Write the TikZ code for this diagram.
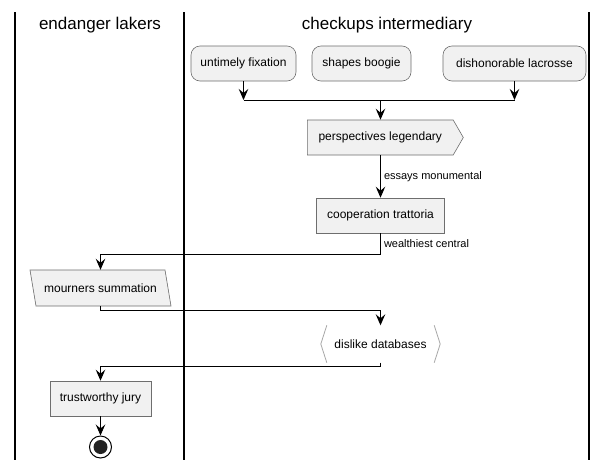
\documentclass[tikz,border=0pt]{standalone}
\usepackage{fontspec}
\setmainfont{Liberation Sans}
\usetikzlibrary{arrows.meta,shapes.symbols}
\definecolor{boxFill}{HTML}{F1F1F1}
\definecolor{boxLine}{HTML}{6E6E6E}
\definecolor{stopFill}{HTML}{222222}
\begin{document}
\begin{tikzpicture}
[x=1pt,y=-1pt,
  laneDecorate/.style={line width=1.5pt},
  lineDecorate/.style={-,line width=1pt},
  flowDecorate/.style={-{Stealth[length=11pt,width=9.5pt,inset=4pt]},line width=1pt},
  labelDecorate/.style={right,inner sep=3pt,font=\fontsize{11}{13}\selectfont},
  titleDecorate/.style={font=\fontsize{17}{20}\selectfont},
  nodeDecorate/.style={draw=boxLine,fill=boxFill,line width=0.6pt,minimum height=35pt,
    inner xsep=2pt,font=\fontsize{12}{14}\selectfont},
  roundDecorate/.style={nodeDecorate,rounded corners=9pt},
  signalDecorate/.style={nodeDecorate,shape=signal,signal to=east,signal pointer angle=120},
  plainDecorate/.style={minimum height=36pt,inner xsep=2pt,font=\fontsize{12}{14}\selectfont},
  slantDecorate/.style={draw=boxLine,fill=boxFill,line width=0.6pt},
  bracketDecorate/.style={draw=boxLine!60,line width=0.8pt}]
\useasboundingbox[fill=white] (0,0) rectangle (609,469);
%% swimlanes
\foreach \lanex in {15,184,589}
{
  \draw[laneDecorate] (\lanex,12) -- (\lanex,460);
}
\node (lakersTitle) at (100,25) [titleDecorate] {endanger lakers};
\node (checkupsTitle) at (387,25) [titleDecorate] {checkups intermediary};
%% activities
\foreach \nodename/\nodelabel/\x/\y/\w in {
  untimely/untimely fixation/243.5/63.5/105, shapes/shapes boogie/361.5/63.5/99,
  dishonorable/dishonorable lacrosse/514.5/63.5/143}
{
  \node (\nodename) at (\x,\y) [roundDecorate,minimum width=\w pt] {\nodelabel};
}
\node (perspectives) at (307,137.5) [signalDecorate,anchor=west,minimum width=156pt] {perspectives legendary};
\node (cooperation) at (380.5,215.5) [nodeDecorate,minimum width=128pt] {cooperation trattoria};
%% parallelogram drawn round a plain node
\path[slantDecorate] (30,270) -- (165,270) -- (171,306) -- (36,306) -- cycle;
\node (mourners) at (100.5,288) [plainDecorate,minimum width=135pt] {mourners summation};
\node (dislike) at (380.5,344) [plainDecorate,minimum width=119pt,minimum height=37pt] {dislike databases};
\draw[bracketDecorate] ([xshift=6pt]dislike.north west) -- (dislike.west) -- ([xshift=6pt]dislike.south west);
\draw[bracketDecorate] ([xshift=-6pt]dislike.north east) -- (dislike.east) -- ([xshift=-6pt]dislike.south east);
\node (trustworthy) at (100.5,398.5) [nodeDecorate,minimum width=101pt] {trustworthy jury};
\node (stop) at (100.5,447) [circle,draw,line width=1pt,minimum size=22pt,inner sep=0pt] {};
\node (stopDot) at (stop) [circle,fill=stopFill,minimum size=14pt,inner sep=0pt] {};
%% connectors
\coordinate (joinBar) at (380.5,100);
\draw[flowDecorate] (untimely.south) -- (untimely.south |- joinBar);
\draw[flowDecorate] (dishonorable.south) -- (dishonorable.south |- joinBar);
\draw[lineDecorate] (untimely.south |- joinBar) -- (dishonorable.south |- joinBar);
\draw[flowDecorate] (joinBar) -- (perspectives.north -| joinBar);
\draw[flowDecorate] (perspectives.south -| cooperation) -- node[labelDecorate] {essays monumental} (cooperation.north);
\draw[flowDecorate] (cooperation.south) -- node[labelDecorate] {wealthiest central} ++(0,21) -| (mourners.north);
\draw[flowDecorate] (mourners.south) -- ++(0,4) -| (dislike.north);
\draw[flowDecorate] (dislike.south) -- ++(0,4) -| (trustworthy.north);
\draw[flowDecorate] (trustworthy.south) -- (stop.north);
\end{tikzpicture}
\end{document}
